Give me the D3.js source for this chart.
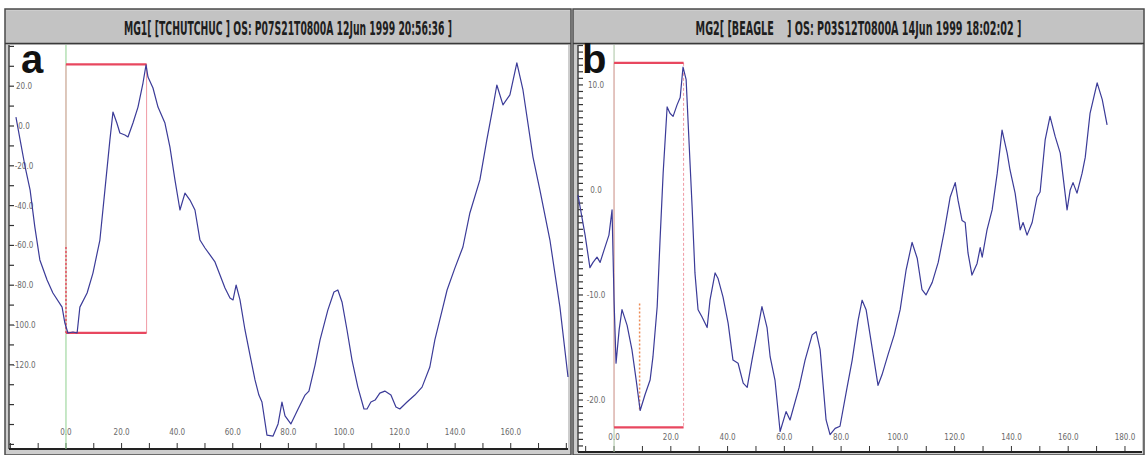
<!DOCTYPE html>
<html lang="en">
<head>
  <meta charset="UTF-8">
  <title>MG1 / MG2 traces</title>
  <script src="https://d3js.org/d3.v7.min.js"></script>
  <style>
    body { margin: 0; background: #fff; }
    .title { font-family: "Liberation Sans Narrow", "DejaVu Sans Condensed", sans-serif; font-weight: bold; fill: #1e1e1e; white-space: pre; }
    .tick-label { font-family: "Liberation Sans Narrow", "DejaVu Sans Condensed", sans-serif; font-size: 8px; fill: #6a6a6a; }
    .panel-letter { font-family: "Liberation Sans Narrow", "Liberation Sans", sans-serif; font-weight: bold; font-size: 40px; fill: #111; }
    .trace { fill: none; stroke: #3b3b98; stroke-width: 1.2px; stroke-linejoin: round; }
  </style>
</head>
<body>
  <svg id="chart" width="1145" height="455"></svg>

  <script>
    // panel a : MG1
    const titleA = "MG1[ [TCHUTCHUC ] OS: P07S21T0800A 12Jun 1999 20:56:36 ]";
    const aX = [-18.0, -16.5, -14.7, -12.9, -11.2, -9.4, -6.8, -4.7, -1.4, -0.4, 0.7, 2.5, 4.0, 5.0, 7.6, 9.7, 12.2, 14.0, 15.8, 16.9,
      18.3, 19.4, 21.2, 22.3, 24.1, 25.9, 27.7, 28.8, 29.5, 31.3, 33.1, 35.6, 37.4, 39.2, 41.0, 42.8, 44.6, 46.4, 48.2, 50.0,
      51.8, 53.6, 55.4, 57.2, 59.0, 60.1, 61.2, 62.6, 64.4, 66.2, 68.0, 69.4, 70.5, 72.3, 74.5, 76.3, 77.7, 78.8, 80.9, 83.5,
      86.0, 87.4, 89.6, 91.4, 94.2, 96.4, 97.8, 99.3, 101.1, 102.9, 105.0, 107.2, 108.3, 109.7, 111.2, 112.9, 114.7, 116.9, 118.7, 120.1,
      122.7, 125.5, 128.1, 130.9, 132.7, 135.6, 137.1, 139.9, 142.8, 145.3, 148.9, 151.4, 153.6, 155.0, 157.2, 159.7, 162.2, 164.4, 168.0, 170.5,
      174.1, 177.7, 180.6];
    const aY = [4.5, -7.0, -20.6, -32.2, -50.8, -67.3, -77.4, -83.9, -91.0, -99.0, -104.0, -103.5, -104.0, -91.0, -83.9, -73.9, -57.3, -32.2, -7.0, 7.0,
      1.5, -3.5, -4.5, -5.5, 1.5, 9.5, 21.6, 30.7, 24.6, 19.1, 9.5, 1.5, -10.6, -27.1, -42.2, -33.7, -37.2, -42.2, -57.3, -61.3,
      -64.8, -68.3, -74.9, -81.4, -86.4, -87.4, -79.9, -87.4, -102.5, -115.1, -127.6, -135.2, -138.7, -155.3, -155.8, -149.7, -138.7, -145.7, -149.7, -142.2,
      -135.2, -133.2, -120.1, -107.5, -92.5, -83.4, -82.4, -88.4, -102.5, -117.6, -131.2, -142.2, -142.2, -138.7, -137.7, -134.2, -133.2, -135.2, -141.2, -142.2,
      -138.7, -135.2, -131.2, -121.1, -107.5, -91.0, -82.4, -71.4, -60.8, -43.7, -27.1, -7.0, 9.5, 20.6, 10.6, 15.6, 31.7, 18.1, -15.6, -32.2,
      -57.3, -91.0, -126.1];
    const aXDomain = [-20.5, 180.6];
    const aYDomain = [-162.3, 40.7];
    const aXLabels = [0, 20, 40, 60, 80, 100, 120, 140, 160];
    const aYLabels = [20, 0, -20, -40, -60, -80, -100, -120];
    const aBox = { x0: 0, x1: 29, yLow: -104, yHigh: 31, mark: 0, markLow: -104, markHigh: -60.8 };

    // panel b : MG2
    const titleB = "MG2[ [BEAGLE    ] OS: P03S12T0800A 14Jun 1999 18:02:02 ]";
    const bX = [-12.7, -10.2, -8.5, -7.4, -6.0, -4.9, -3.5, -1.8, -0.7, 0.0, 0.7, 1.8, 2.8, 4.6, 6.3, 7.8, 9.2, 10.9, 12.7, 13.7,
      15.2, 16.2, 17.3, 18.7, 19.7, 20.8, 22.2, 23.3, 24.3, 25.4, 26.1, 27.5, 28.5, 29.6, 31.0, 32.8, 33.8, 35.6, 36.6, 38.4,
      40.2, 41.9, 43.7, 45.5, 46.9, 48.6, 50.4, 52.1, 53.9, 55.0, 56.7, 58.5, 60.6, 62.0, 65.2, 67.3, 69.8, 71.2, 72.6, 74.7,
      76.1, 77.9, 79.6, 82.1, 83.9, 86.0, 87.4, 88.8, 90.2, 91.6, 93.0, 94.4, 96.5, 98.7, 100.8, 102.9, 105.0, 106.8, 108.5, 109.9,
      112.1, 114.2, 116.3, 118.4, 120.2, 121.2, 122.6, 123.7, 124.7, 126.1, 127.9, 129.0, 129.7, 131.4, 133.2, 135.0, 136.7, 138.5, 139.5, 141.3,
      143.1, 144.1, 145.5, 147.3, 149.0, 150.1, 151.9, 153.6, 155.4, 157.2, 159.6, 160.7, 161.7, 163.1, 164.9, 166.0, 167.7, 170.2, 172.0, 173.7];
    const bY = [-0.5, -4.3, -7.4, -6.9, -6.4, -6.9, -5.7, -4.3, -1.9, -10.5, -16.5, -13.3, -11.4, -12.9, -15.2, -18.1, -21.0, -19.5, -18.1, -15.9,
      -11.1, -4.8, 1.6, 7.9, 7.3, 7.0, 8.1, 8.8, 11.7, 10.5, 6.4, -1.6, -7.9, -11.4, -12.1, -13.1, -10.5, -7.9, -8.4, -10.2,
      -12.7, -16.2, -16.5, -18.4, -18.8, -16.2, -13.6, -11.1, -13.1, -15.9, -18.1, -23.0, -21.1, -21.9, -18.8, -16.2, -13.8, -13.5, -15.2, -21.9,
      -23.3, -22.7, -22.5, -18.8, -16.2, -12.4, -10.5, -11.4, -13.8, -16.2, -18.6, -17.6, -15.7, -13.8, -11.4, -7.6, -5.0, -6.5, -9.5, -10.0,
      -8.8, -6.9, -4.0, -0.7, 0.7, -1.0, -2.9, -3.1, -6.0, -8.1, -7.0, -5.5, -6.4, -3.8, -1.9, 1.6, 5.7, 3.5, 1.9, -0.3,
      -3.8, -3.1, -4.3, -3.1, -0.7, -0.2, 4.8, 7.0, 5.1, 3.5, -1.9, 0.0, 0.7, -0.3, 1.6, 3.1, 7.3, 10.2, 8.6, 6.2];
    const bXDomain = [-12.7, 186];
    const bYDomain = [-24.95, 13.8];
    const bXLabels = [0, 20, 40, 60, 80, 100, 120, 140, 160, 180];
    const bYLabels = [10, 0, -10, -20];
    const bBox = { x0: 0, x1: 24.5, yLow: -22.6, yHigh: 12.1, mark: 9.0, markLow: -21.0, markHigh: -10.8 };

    const svg = d3.select("#chart");

    function drawPanel(p) {
      const g = svg.append("g");
      // frame + title bar
      g.append("rect").attr("x", p.fx).attr("y", 9).attr("width", p.fw).attr("height", 446)
        .attr("fill", "#cdcdcd").attr("stroke", "#4a4a4a").attr("stroke-width", 1.5);
      g.append("rect").attr("x", p.fx + 1).attr("y", 11).attr("width", p.fw - 2).attr("height", 32)
        .attr("fill", "#c3c3c3");
      g.append("line").attr("x1", p.fx).attr("x2", p.fx + p.fw).attr("y1", 43.5).attr("y2", 43.5)
        .attr("stroke", "#3a3a3a").attr("stroke-width", 1.5);

      // squeeze the title to the measured width of the original
      const cx = p.fx + p.fw / 2;
      const t = g.append("text").attr("class", "title")
        .attr("x", 0).attr("y", 0)
        .attr("text-anchor", "middle")
        .attr("font-size", 18)
        .text(p.title);
      const k = Math.min(1, p.titleW / t.node().getComputedTextLength());
      t.attr("transform", `translate(${cx},35) scale(${k},1.05)`);

      const x = d3.scaleLinear().domain(p.xDomain).range([p.left, p.right]);
      const y = d3.scaleLinear().domain(p.yDomain).range([p.bottom, p.top]);

      g.append("rect").attr("x", p.left).attr("y", p.top)
        .attr("width", p.right - p.left).attr("height", p.bottom - p.top).attr("fill", "#fff");

      // minor ticks, y
      g.append("g").selectAll("line")
        .data(d3.range(Math.ceil(p.yDomain[0] / p.yStep) * p.yStep, p.yDomain[1], p.yStep))
        .join("line")
        .attr("x1", p.left).attr("x2", p.left + p.yTickLen)
        .attr("y1", d => y(d)).attr("y2", d => y(d))
        .attr("stroke", "#333").attr("stroke-width", 1.2);
      // minor ticks, x
      g.append("g").selectAll("line")
        .data(d3.range(Math.ceil(p.xDomain[0] / 10) * 10, p.xDomain[1], 10))
        .join("line")
        .attr("x1", d => x(d)).attr("x2", d => x(d))
        .attr("y1", p.bottom).attr("y2", p.bottom - 6)
        .attr("stroke", "#333").attr("stroke-width", 1);

      g.append("line").attr("x1", p.left).attr("x2", p.left).attr("y1", p.top).attr("y2", p.bottom)
        .attr("stroke", "#444").attr("stroke-width", 1.5);
      g.append("line").attr("x1", p.left).attr("x2", p.right).attr("y1", p.bottom).attr("y2", p.bottom)
        .attr("stroke", "#222").attr("stroke-width", 2);

      g.append("g").selectAll("text").data(p.yLabels).join("text")
        .attr("class", "tick-label")
        .attr("x", p.yLabelX).attr("y", d => y(d) + 3)
        .attr("text-anchor", "middle")
        .text(d => d.toFixed(1));
      g.append("g").selectAll("text").data(p.xLabels).join("text")
        .attr("class", "tick-label")
        .attr("x", d => x(d)).attr("y", p.xLabelY)
        .attr("text-anchor", "middle")
        .text(d => d.toFixed(1));

      // zero line
      g.append("line").attr("x1", x(0)).attr("x2", x(0)).attr("y1", p.top).attr("y2", p.bottom)
        .attr("stroke", p.zeroColor).attr("stroke-width", 1);

      // selection box
      const b = p.box;
      g.append("line").attr("x1", x(b.x0)).attr("x2", x(b.x0)).attr("y1", y(b.yHigh)).attr("y2", y(b.yLow))
        .attr("stroke", "#f3a9b0").attr("stroke-width", 1);
      g.append("line").attr("x1", x(b.x1)).attr("x2", x(b.x1)).attr("y1", y(b.yHigh)).attr("y2", y(b.yLow))
        .attr("stroke", "#f09aa4").attr("stroke-width", 1).attr("stroke-dasharray", p.rightDash);
      g.append("line").attr("x1", x(b.mark)).attr("x2", x(b.mark)).attr("y1", y(b.markHigh)).attr("y2", y(b.markLow))
        .attr("stroke", p.markColor).attr("stroke-width", 1.5).attr("stroke-dasharray", "2,2");
      [b.yHigh, b.yLow].forEach(v => {
        g.append("line").attr("x1", x(b.x0)).attr("x2", x(b.x1)).attr("y1", y(v)).attr("y2", y(v))
          .attr("stroke", "#e8475f").attr("stroke-width", 2.2);
      });

      const line = d3.line().x(d => x(d[0])).y(d => y(d[1]));
      g.append("path").attr("class", "trace")
        .attr("d", line(d3.zip(p.xs, p.ys)));

      g.append("text").attr("class", "panel-letter")
        .attr("x", p.letterX).attr("y", 73).text(p.letter);
    }

    drawPanel({
      title: titleA, letter: "a", fx: 5, fw: 566, titleW: 328,
      left: 9, right: 568, top: 45, bottom: 449,
      xDomain: aXDomain, yDomain: aYDomain, yStep: 10, yTickLen: 5,
      xLabels: aXLabels, yLabels: aYLabels, yLabelX: 24, xLabelY: 435,
      xs: aX, ys: aY, box: aBox, zeroColor: "#8fd08f", markColor: "#e55060", rightDash: null,
      letterX: 21
    });

    drawPanel({
      title: titleB, letter: "b", fx: 573, fw: 571, titleW: 326,
      left: 578, right: 1142, top: 45, bottom: 452,
      xDomain: bXDomain, yDomain: bYDomain, yStep: 0.625, yTickLen: 5,
      xLabels: bXLabels, yLabels: bYLabels, yLabelX: 596, xLabelY: 440,
      xs: bX, ys: bY, box: bBox, zeroColor: "#a9c4a3", markColor: "#ec8a55", rightDash: "3,2",
      letterX: 582
    });
  </script>
</body>
</html>
